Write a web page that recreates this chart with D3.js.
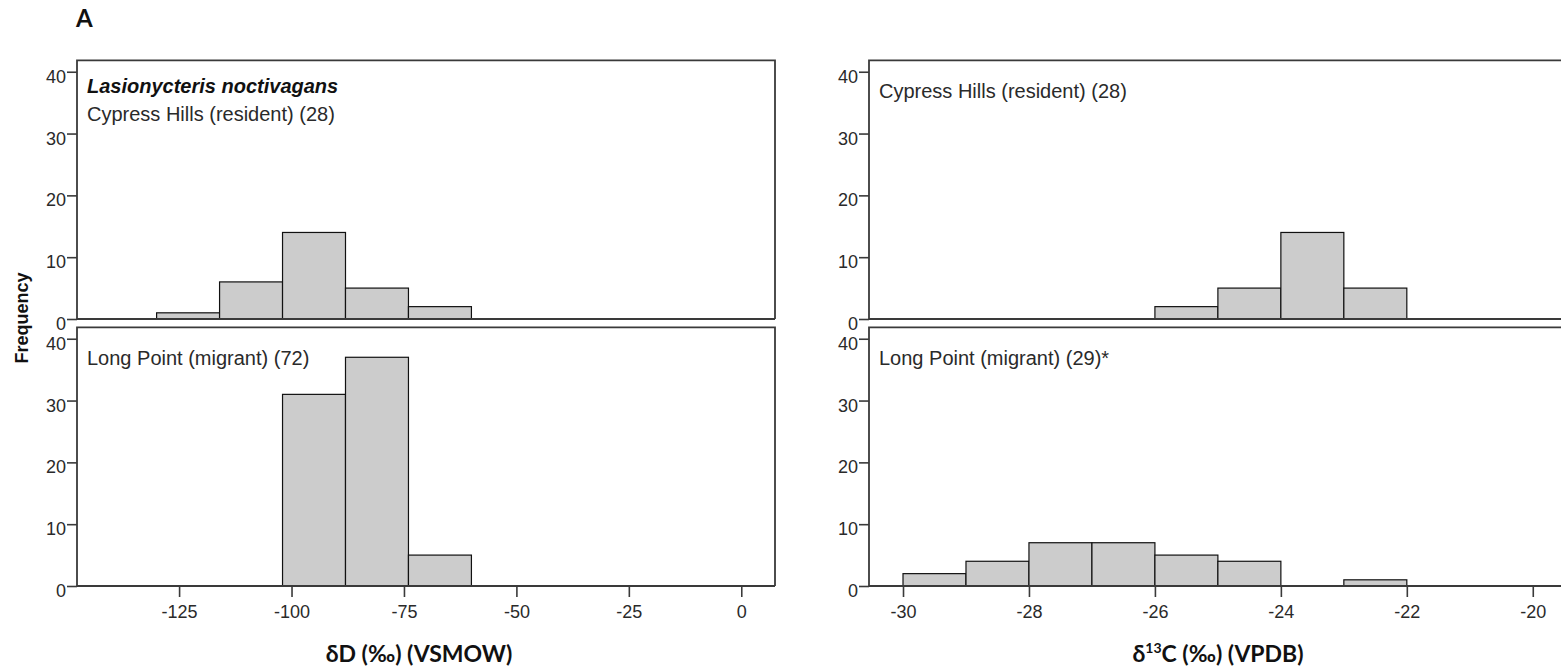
<!DOCTYPE html>
<html>
<head>
<meta charset="utf-8">
<script src="https://cdn.jsdelivr.net/npm/d3@7"></script>
<style>
  html, body { margin: 0; padding: 0; background: #fff; }
  svg { display: block; }
</style>
</head>
<body>
<svg id="chart" width="1561" height="669"></svg>
<script>
// ---------- data ----------
const dBinWidth = 14;
const dBinStarts = [-130, -116, -102, -88, -74];
const dCypressCounts = [1, 6, 14, 5, 2];
const dLongPointCounts = [0, 0, 31, 37, 5];

const cBinWidth = 1;
const cBinStarts = [-30, -29, -28, -27, -26, -25, -24, -23];
const cCypressCounts = [0, 0, 0, 0, 2, 5, 14, 5];
const cLongPointCounts = [2, 4, 7, 7, 5, 4, 0, 1];

const dTicks = [-125, -100, -75, -50, -25, 0];
const cTicks = [-30, -28, -26, -24, -22, -20];
const yTicks = [0, 10, 20, 30, 40];

const speciesLabel = "Lasionycteris noctivagans";
const panelLabels = [
  "Cypress Hills (resident) (28)",
  "Long Point (migrant) (72)",
  "Cypress Hills (resident) (28)",
  "Long Point (migrant) (29)*"
];
const yTitle = "Frequency";
const panelLetter = "A";

// ---------- layout ----------
const svg = d3.select("#chart");
const cols = [
  { x0: 77, x1: 775 },
  { x0: 869, x1: 1563 }
];
const rows = [
  { top: 60.3, bottom: 319 },
  { top: 327.3, bottom: 586 }
];

const xD = d3.scaleLinear().domain([-147.7, 7.5]).range([cols[0].x0, cols[0].x1]);
const xC = d3.scaleLinear().domain([-30.54, -19.52]).range([cols[1].x0, cols[1].x1]);
const yMax = 41.85;

const tickFont = "'Liberation Sans', Arial, sans-serif";
const frameColor = "#3a3a3a";
const fmt = d => String(d);

const panels = [
  { col: 0, row: 0, x: xD, starts: dBinStarts, w: dBinWidth, counts: dCypressCounts, ticks: dTicks, label: panelLabels[0], species: true },
  { col: 0, row: 1, x: xD, starts: dBinStarts, w: dBinWidth, counts: dLongPointCounts, ticks: dTicks, label: panelLabels[1] },
  { col: 1, row: 0, x: xC, starts: cBinStarts, w: cBinWidth, counts: cCypressCounts, ticks: cTicks, label: panelLabels[2] },
  { col: 1, row: 1, x: xC, starts: cBinStarts, w: cBinWidth, counts: cLongPointCounts, ticks: cTicks, label: panelLabels[3] }
];

panels.forEach(p => {
  const c = cols[p.col], r = rows[p.row];
  const y = d3.scaleLinear().domain([0, yMax]).range([r.bottom, r.top]);
  const g = svg.append("g");

  // bars
  const bins = p.starts.map((s, i) => ({ x0: s, x1: s + p.w, n: p.counts[i] })).filter(b => b.n > 0);
  g.selectAll("rect.bar").data(bins).enter().append("rect")
    .attr("class", "bar")
    .attr("x", b => p.x(b.x0))
    .attr("y", b => y(b.n))
    .attr("width", b => p.x(b.x1) - p.x(b.x0))
    .attr("height", b => y(0) - y(b.n))
    .attr("fill", "#cccccc")
    .attr("stroke", "#111")
    .attr("stroke-width", 1.2);

  // frame (top, left, right) and baseline
  g.append("path")
    .attr("d", `M${c.x0},${y(0)}V${r.top}H${c.x1}V${y(0)}`)
    .attr("fill", "none")
    .attr("stroke", frameColor)
    .attr("stroke-width", 1.8);
  g.append("line")
    .attr("x1", c.x0).attr("x2", c.x1)
    .attr("y1", y(0)).attr("y2", y(0))
    .attr("stroke", frameColor)
    .attr("stroke-width", 1.8);

  // y axis
  const ya = g.append("g")
    .attr("transform", `translate(${c.x0},0)`)
    .call(d3.axisLeft(y).tickValues(yTicks).tickSize(10).tickPadding(1).tickFormat(fmt));
  ya.select(".domain").remove();
  ya.selectAll(".tick line").attr("stroke", frameColor).attr("stroke-width", 1.6);
  ya.selectAll(".tick text")
    .attr("dy", 10.5)
    .attr("fill", "#2a2a2a")
    .style("font-family", tickFont)
    .style("font-size", "18px");

  // x axis on bottom row
  if (p.row === 1) {
    const xa = g.append("g")
      .attr("transform", `translate(0,${y(0)})`)
      .call(d3.axisBottom(p.x).tickValues(p.ticks).tickSize(11).tickPadding(8).tickFormat(fmt));
    xa.select(".domain").remove();
    xa.selectAll(".tick line").attr("stroke", frameColor).attr("stroke-width", 1.6);
    xa.selectAll(".tick text")
      .attr("fill", "#2a2a2a")
      .style("font-family", tickFont)
      .style("font-size", "18px");
  }

  // panel labels
  const lx = c.x0 + 10;
  if (p.species) {
    g.append("text")
      .attr("x", lx).attr("y", r.top + 32.5)
      .style("font-family", tickFont)
      .style("font-size", "20px")
      .style("font-weight", "bold")
      .style("font-style", "italic")
      .attr("fill", "#111")
      .text(speciesLabel);
    g.append("text")
      .attr("x", lx).attr("y", r.top + 61)
      .style("font-family", tickFont)
      .style("font-size", "20px")
      .attr("fill", "#2a2a2a")
      .text(p.label);
  } else {
    g.append("text")
      .attr("x", lx).attr("y", r.top + (p.row === 0 ? 38 : 38))
      .style("font-family", tickFont)
      .style("font-size", "20px")
      .attr("fill", "#2a2a2a")
      .text(p.label);
  }
});

// y title
svg.append("text")
  .attr("transform", "translate(28,318) rotate(-90)")
  .attr("text-anchor", "middle")
  .style("font-family", tickFont)
  .style("font-size", "18px")
  .style("font-weight", "bold")
  .attr("fill", "#111")
  .text(yTitle);

// panel letter
svg.append("text")
  .attr("x", 76).attr("y", 26.5)
  .style("font-family", "Lato, 'Liberation Sans', sans-serif")
  .style("font-size", "24px")
  .style("font-weight", "bold")
  .attr("fill", "#111")
  .text(panelLetter);

// x titles
const titleFont = "Lato, 'Liberation Sans', sans-serif";
svg.append("text")
  .attr("x", 419).attr("y", 662)
  .attr("text-anchor", "middle")
  .style("font-family", titleFont)
  .style("font-size", "23px")
  .style("font-weight", "bold")
  .attr("fill", "#111")
  .text("δD (‰) (VSMOW)");

const t2 = svg.append("text")
  .attr("x", 1218).attr("y", 662)
  .attr("text-anchor", "middle")
  .style("font-family", titleFont)
  .style("font-size", "23px")
  .style("font-weight", "bold")
  .attr("fill", "#111");
t2.append("tspan").text("δ");
t2.append("tspan").attr("dy", -9).style("font-size", "14px").text("13");
t2.append("tspan").attr("dy", 9).text("C (‰) (VPDB)");
</script>
</body>
</html>
